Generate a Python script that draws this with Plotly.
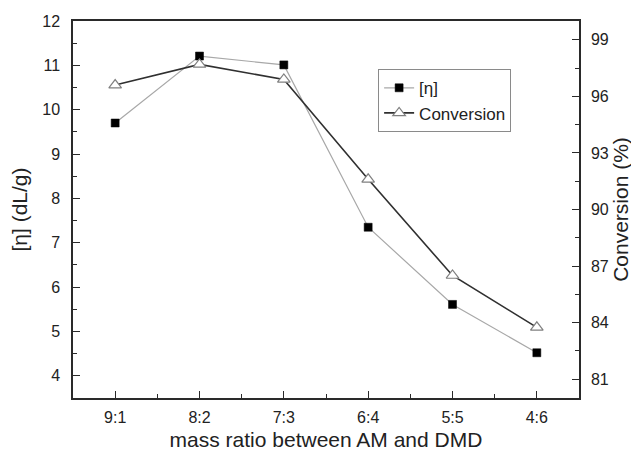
import plotly.graph_objects as go

categories = ["9:1", "8:2", "7:3", "6:4", "5:5", "4:6"]
eta_values = [9.70, 11.21, 11.01, 7.35, 5.61, 4.52]
conversion_values = [96.6, 97.7, 96.9, 91.6, 86.5, 83.75]
left_ticks = [4, 5, 6, 7, 8, 9, 10, 11, 12]
right_ticks = [81, 84, 87, 90, 93, 96, 99]

xpos = list(range(len(categories)))
FONT = "Arial, Liberation Sans, Helvetica, sans-serif"
AX = "#2a2a2a"
TITLE_SIZE = 21
TICK_SIZE = 16

fig = go.Figure()
fig.add_trace(go.Scatter(
    x=xpos, y=eta_values, name="[η]", mode="lines+markers",
    line=dict(color="#a8a8a8", width=1.2),
    marker=dict(symbol="square", size=8, color="#000000",
                line=dict(color="#000000", width=0.5)),
    yaxis="y",
))
fig.add_trace(go.Scatter(
    x=xpos, y=conversion_values, name="Conversion", mode="lines+markers",
    line=dict(color="#303030", width=1.6),
    marker=dict(symbol="triangle-up", size=11, color="white",
                line=dict(color="#808080", width=1.2)),
    yaxis="y2",
))

# page body has an 8px margin: figure sized to fit the visible window
fig.update_layout(
    width=631, height=443,
    margin=dict(l=65, r=60, t=13, b=53, autoexpand=False),
    paper_bgcolor="white", plot_bgcolor="white",
    font=dict(family=FONT, size=TICK_SIZE, color="#222222"),
    showlegend=True,
    legend=dict(
        x=0.603, y=0.872, xanchor="left", yanchor="top",
        bgcolor="white", bordercolor="#8a8a8a", borderwidth=1,
        font=dict(size=17, family=FONT, color="#222222"),
        tracegroupgap=0, itemwidth=30,
    ),
    xaxis=dict(
        range=[-0.5, 5.5], tickmode="array", tickvals=xpos, ticktext=categories,
        showline=True, linecolor=AX, linewidth=1.5, mirror=True,
        ticks="inside", ticklen=7, tickwidth=1.2, tickcolor=AX,
        minor=dict(tickmode="array", tickvals=[0.5, 1.5, 2.5, 3.5, 4.5],
                   ticks="inside", ticklen=4, tickwidth=1.2, tickcolor=AX),
        showgrid=False, zeroline=False, automargin=False,
        tickfont=dict(size=TICK_SIZE), ticklabelstandoff=4,
        title=dict(text="mass ratio between AM and DMD", font=dict(size=TITLE_SIZE), standoff=9),
    ),
    yaxis=dict(
        range=[3.5, 12], tickmode="array", tickvals=left_ticks,
        showline=True, linecolor=AX, linewidth=1.5, mirror=False,
        ticks="inside", ticklen=7, tickwidth=1.2, tickcolor=AX,
        minor=dict(tickmode="array", tickvals=[t + 0.5 for t in left_ticks[:-1]],
                   ticks="inside", ticklen=4, tickwidth=1.2, tickcolor=AX),
        showgrid=False, zeroline=False, automargin=False,
        tickfont=dict(size=TICK_SIZE), ticklabelstandoff=8,
        title=dict(text="[η] (dL/g)", font=dict(size=TITLE_SIZE), standoff=12),
    ),
    yaxis2=dict(
        range=[80, 100], overlaying="y", side="right",
        tickmode="array", tickvals=right_ticks,
        showline=True, linecolor=AX, linewidth=1.5,
        ticks="inside", ticklen=7, tickwidth=1.2, tickcolor=AX,
        minor=dict(tickmode="array", tickvals=[t + 1.5 for t in right_ticks[:-1]],
                   ticks="inside", ticklen=4, tickwidth=1.2, tickcolor=AX),
        showgrid=False, zeroline=False, automargin=False,
        tickfont=dict(size=TICK_SIZE), ticklabelstandoff=7,
        title=dict(text="Conversion (%)", font=dict(size=TITLE_SIZE), standoff=3),
    ),
)

fig.write_html("out.html")
